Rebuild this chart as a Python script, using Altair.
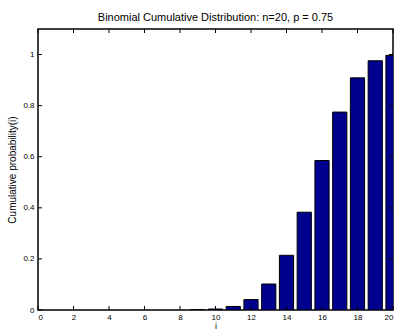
import altair as alt
import pandas as pd

# bar positions and cumulative probabilities
positions = list(range(1, 22))
cum_prob = [0.0, 0.0, 0.0, 0.0, 0.0, 0.0, 0.0, 0.0002, 0.0009, 0.0039, 0.0139,
            0.0409, 0.1018, 0.2142, 0.3828, 0.5852, 0.7748, 0.9087, 0.9757,
            0.9968, 1.0]
x_ticks = [0, 2, 4, 6, 8, 10, 12, 14, 16, 18, 20]
y_ticks = [0, 0.2, 0.4, 0.6, 0.8, 1.0]

W, H = 355, 281
FONT = "Liberation Sans"

df = pd.DataFrame({"i": positions, "p": cum_prob})
xt = pd.DataFrame({"t": x_ticks})
yt = pd.DataFrame({"t": y_ticks})

xscale = alt.Scale(domain=[0, 20], nice=False, zero=False)
yscale = alt.Scale(domain=[0, 1.1], nice=False, zero=False)

xaxis = alt.Axis(values=x_ticks, title="i", format="~g", grid=False,
                 domain=False, ticks=False, labelFontSize=8,
                 labelFont=FONT, labelColor="black", labelPadding=3,
                 titleFont=FONT, titleFontSize=9, titleFontWeight="normal",
                 titleColor="black", titlePadding=0)
yaxis = alt.Axis(values=y_ticks, title="Cumulative probability(i)",
                 format="~g", grid=False, domain=False, ticks=False,
                 labelFontSize=8, labelFont=FONT, labelColor="black",
                 labelPadding=4, titleFont=FONT, titleFontSize=10,
                 titleFontWeight="normal", titleColor="black",
                 titlePadding=5)

bars = alt.Chart(df).transform_calculate(
    x0="datum.i - 0.4", x1="datum.i + 0.4", base="0"
).mark_rect(color="#00008F", stroke="black", strokeWidth=1, clip=True).encode(
    x=alt.X("x0:Q", scale=xscale, axis=xaxis, title="i"),
    x2="x1:Q",
    y=alt.Y("p:Q", scale=yscale, axis=yaxis, title="Cumulative probability(i)"),
    y2="base:Q",
    strokeOpacity=alt.condition("datum.p > 0.0005", alt.value(1), alt.value(0)),
)

tb = alt.Chart(xt).mark_rule(color="black", strokeWidth=1).encode(
    x=alt.X("t:Q", scale=xscale, axis=xaxis, title="i"),
    y=alt.value(H), y2=alt.value(H - 4))
tt = alt.Chart(xt).mark_rule(color="black", strokeWidth=1).encode(
    x=alt.X("t:Q", scale=xscale, axis=xaxis, title="i"),
    y=alt.value(0), y2=alt.value(4))
tl = alt.Chart(yt).mark_rule(color="black", strokeWidth=1).encode(
    y=alt.Y("t:Q", scale=yscale, axis=yaxis, title="Cumulative probability(i)"),
    x=alt.value(0), x2=alt.value(4))
tr = alt.Chart(yt).mark_rule(color="black", strokeWidth=1).encode(
    y=alt.Y("t:Q", scale=yscale, axis=yaxis, title="Cumulative probability(i)"),
    x=alt.value(W), x2=alt.value(W - 4))

chart = alt.layer(bars, tb, tt, tl, tr).properties(
    width=W, height=H,
    title=alt.TitleParams("Binomial Cumulative Distribution: n=20, p = 0.75",
                          font=FONT, fontSize=11, fontWeight="normal",
                          color="black", offset=6, anchor="middle"),
    autosize=alt.AutoSizeParams(type="none"),
    padding={"left": 38, "top": 29, "right": 5, "bottom": 19},
    background="white",
).configure_view(stroke="black", strokeWidth=1.5)

chart.save("out.html", embed_options={"renderer": "svg", "actions": False})
